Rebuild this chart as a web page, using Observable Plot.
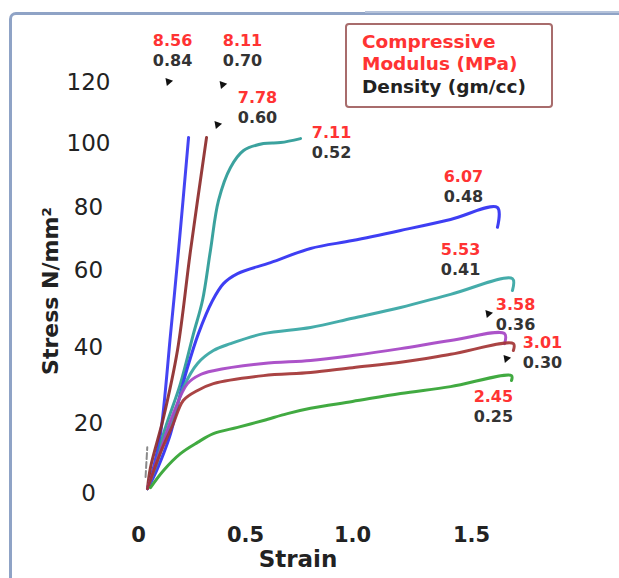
<!DOCTYPE html>
<html>
<head>
<meta charset="utf-8">
<script src="https://cdn.jsdelivr.net/npm/d3@7"></script>
<script src="https://cdn.jsdelivr.net/npm/@observablehq/plot@0.6"></script>
<style>
  body { margin: 0; background: #fff; }
  #wrap { position: relative; width: 619px; height: 578px; overflow: hidden; font-family: "DejaVu Sans", sans-serif; }
  #wrap svg { position: absolute; left: 0; top: 0; }
  .frameL { position: absolute; left: 9px; top: 12px; width: 900px; height: 900px; border-left: 3px solid #8fa3c6; border-top: 3px solid #8fa3c6; border-top-left-radius: 7px; }
  .frameR { position: absolute; left: 365px; top: 11px; width: 300px; height: 0; border-top: 2px solid #b4c2da; }
  .legend { position: absolute; left: 345px; top: 23px; width: 204px; height: 81px; border: 2px solid #a86c6c; border-radius: 4px; background: #fff; }
  .legend div { position: absolute; left: 15px; font-weight: bold; font-size: 18.5px; white-space: nowrap; }
</style>
</head>
<body>
<div id="wrap">
  <div class="frameL"></div>
  <div class="frameR"></div>
</div>
<script>
// axis ticks
const xTicks = [0, 0.5, 1.0, 1.5];
const xTickLabels = ["0", "0.5", "1.0", "1.5"];
const yTicks = [0, 20, 40, 60, 80, 100, 120];

// stress-strain curves [strain, stress]
const blueSteep = [[0.042,1.4],[0.070,7.4],[0.103,17.1],[0.150,43.6],[0.187,66.3],[0.234,102.0]];
const brownSteep = [[0.042,1.4],[0.056,7.4],[0.117,21.6],[0.182,39.2],[0.243,66.3],[0.318,102.0]];
const tealTop = [[0.042,1.4],[0.079,7.4],[0.117,17.1],[0.196,30.5],[0.257,43.6],[0.299,52.2],[0.336,66.3],[0.374,82.2],[0.430,92.5],[0.491,97.8],[0.584,100],[0.664,100.3],[0.757,101.6]];
const blueMid = [[0.042,1.4],[0.070,4.6],[0.117,11.4],[0.150,17.1],[0.196,27.9],[0.229,34.7],[0.280,43.6],[0.346,52.2],[0.397,56.6],[0.463,59.2],[0.617,62.5],[0.804,67.0],[1.0,69.5],[1.202,72.7],[1.412,76.2],[1.609,80],[1.609,73.7]];
const tealMid = [[0.042,1.4],[0.079,7.4],[0.126,16],[0.173,23.4],[0.210,29.5],[0.276,35.8],[0.350,39.2],[0.430,41.0],[0.584,43.6],[0.804,45.2],[1.0,47.6],[1.202,50.4],[1.412,53.8],[1.672,57.9],[1.672,54.8]];
const purple = [[0.042,1.4],[0.103,12.3],[0.159,22.1],[0.229,30.5],[0.290,32.9],[0.350,33.9],[0.584,35.8],[0.804,36.6],[1.0,37.9],[1.202,39.7],[1.412,41.8],[1.639,43.6],[1.639,41.0]];
const brownLow = [[0.042,1.4],[0.103,11.7],[0.159,19.4],[0.210,26.1],[0.276,28.7],[0.350,30.5],[0.584,32.6],[0.804,33.4],[1.0,34.7],[1.202,36.1],[1.412,38.2],[1.676,41.0],[1.676,39.2]];
const green = [[0.056,1.7],[0.117,6.6],[0.196,11.4],[0.276,14.6],[0.350,17.1],[0.463,18.9],[0.584,20.8],[0.696,22.6],[0.804,24.0],[1.0,25.8],[1.202,27.9],[1.412,29.7],[1.668,32.6],[1.668,31.3]];
const grayDash = [[0.033,4.7],[0.041,13.2]];

const curveNames = ["blueSteep","brownSteep","tealTop","blueMid","tealMid","purple","brownLow","green"];
const curveData = [blueSteep, brownSteep, tealTop, blueMid, tealMid, purple, brownLow, green];
const curveColors = ["#3434f2","#8c2a2a","#2a9a96","#2e2ef2","#35a5a3","#a544c4","#a33434","#31a331"];

// annotations
const labelModulus = ["8.56","8.11","7.78","7.11","6.07","5.53","3.58","3.01","2.45"];
const labelDensity = ["0.84","0.70","0.60","0.52","0.48","0.41","0.36","0.30","0.25"];
const labelStrain = [0.159,0.486,0.556,0.902,1.466,1.454,1.685,1.798,1.592];
const labelStress = [130.5,130.5,111.8,100.3,86.6,63.3,48.6,38.6,24.5];
const arrowStrain = [0.140,0.393,0.369,1.571,1.647];
const arrowStress = [120.3,119.3,106.2,48.8,37.1];

const rows = [];
curveData.forEach((c, i) => c.forEach(([s, t]) => rows.push({id: curveNames[i], strain: s, stress: t, color: curveColors[i]})));
const labels = labelModulus.map((m, i) => ({m, d: labelDensity[i], x: labelStrain[i], y: labelStress[i]}));
const arrows = arrowStrain.map((x, i) => ({x, y: arrowStress[i]}));

const chart = Plot.plot({
  width: 619,
  height: 578,
  marginLeft: 138,
  marginTop: 82,
  marginBottom: 85,
  marginRight: 148,
  style: {fontFamily: "DejaVu Sans", background: "transparent", overflow: "visible"},
  color: {type: "identity"},
  x: {type: "linear", domain: xTicks, range: [138, 245, 352, 471], axis: null},
  y: {type: "linear", domain: yTicks, range: [493, 423, 347, 270, 207, 143, 82], axis: null},
  marks: [
    Plot.line(grayDash, {x: d => d[0], y: d => d[1], stroke: "#8a8a8a", strokeWidth: 2, strokeDasharray: "6,3"}),
    Plot.line(rows, {x: "strain", y: "stress", z: "id", stroke: "color", strokeWidth: 3, curve: "catmull-rom", strokeOpacity: 0.92}),
    Plot.text(yTicks, {y: d => d, text: d => String(d), frameAnchor: "left", dx: -50, textAnchor: "middle", lineAnchor: "middle", fontSize: 23, fill: "#222"}),
    Plot.text(xTicks, {x: d => d, text: (d, i) => xTickLabels[i], frameAnchor: "bottom", dy: 42, textAnchor: "middle", lineAnchor: "middle", fontSize: 21, fontWeight: "bold", fill: "#222"}),
    Plot.text(["Strain"], {frameAnchor: "bottom", dx: -7, dy: 66, textAnchor: "middle", lineAnchor: "middle", fontSize: 23, fontWeight: "bold", fill: "#222"}),
    Plot.text(["Stress N/mm²"], {frameAnchor: "left", dx: -88, dy: 3, rotate: -90, textAnchor: "middle", lineAnchor: "middle", fontSize: 22, fontWeight: "bold", fill: "#222"}),
    Plot.text(labels, {x: "x", y: "y", text: "m", dy: -10, fontSize: 16, fontWeight: "bold", fill: "#ff3333"}),
    Plot.text(labels, {x: "x", y: "y", text: "d", dy: 10, fontSize: 16, fontWeight: "bold", fill: "#333"}),
    Plot.dot(arrows, {x: "x", y: "y", symbol: "triangle", r: 3, fill: "#111", rotate: -40})
  ]
});
const wrap = document.getElementById("wrap");
wrap.insertBefore(chart, wrap.firstChild);

const legend = document.createElement("div");
legend.className = "legend";
legend.innerHTML = '<div style="top:6px;color:#ff3333">Compressive</div><div style="top:28px;color:#ff3333">Modulus (MPa)</div><div style="top:51px;color:#222">Density (gm/cc)</div>';
wrap.appendChild(legend);
</script>
</body>
</html>
